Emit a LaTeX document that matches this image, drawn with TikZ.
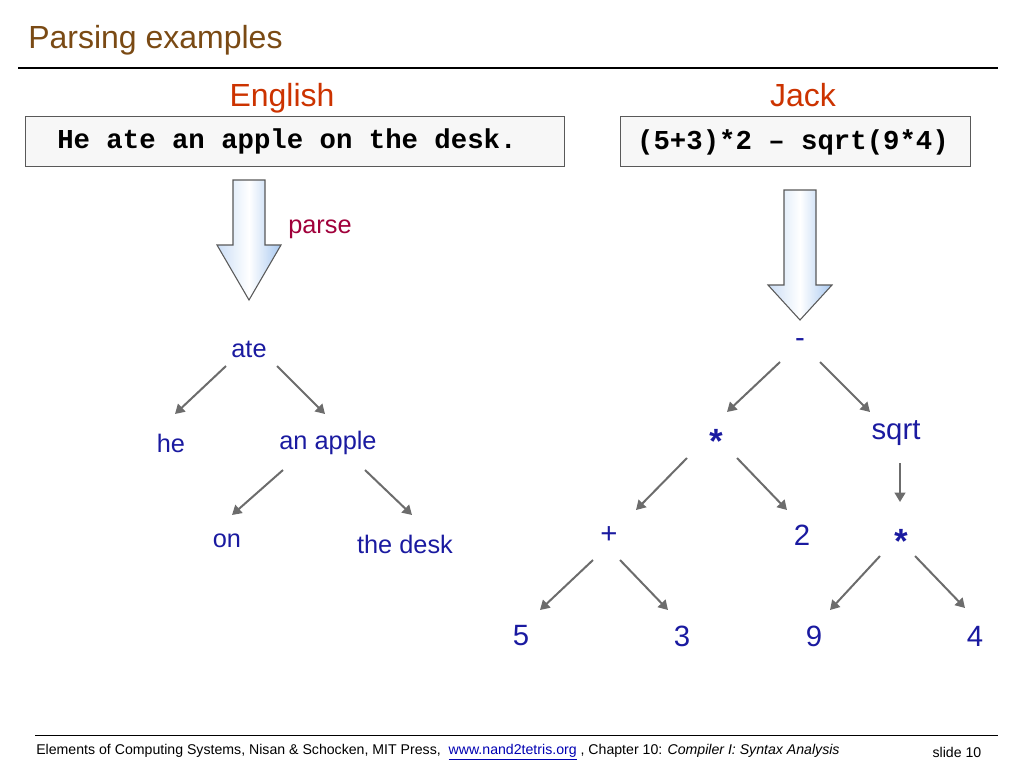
\documentclass[tikz,border=0pt]{standalone}
\usepackage{fontspec}
\setmainfont{Liberation Sans}
\setmonofont{Liberation Mono}
\usetikzlibrary{arrows.meta}
\definecolor{ttl}{HTML}{7A4A14}
\definecolor{hdr}{HTML}{CC3300}
\definecolor{tb}{HTML}{1A1AA0}
\definecolor{prs}{HTML}{A0003A}
\definecolor{bl}{HTML}{A8C8F0}
\tikzset{
 lab/.style={text=tb,font=\fontsize{19}{19}\selectfont,inner sep=0},
 big/.style={text=tb,font=\fontsize{22}{22}\selectfont,inner sep=0},
 op/.style={text=tb,font=\fontsize{26}{26}\selectfont\ttfamily\bfseries,inner sep=0},
 ed/.style={draw=gray!85!black,line width=1.5pt,-{Triangle[length=7pt,width=8pt]}},
 codebox/.style={draw=gray!70!black,fill=gray!6},
 code/.style={font=\fontsize{20.5}{20.5}\selectfont\ttfamily\bfseries,inner sep=0},
 hd/.style={text=hdr,font=\fontsize{24}{24}\selectfont,inner sep=0,anchor=base},
 bigarrow/.style={draw=gray!70!black,line width=0.8pt,left color=bl!60,right color=bl,middle color=white}
}
\begin{document}
\begin{tikzpicture}[x=0.75pt,y=-0.75pt]
\useasboundingbox (0,0) rectangle (1024,768);
\node[anchor=west,text=ttl,font=\fontsize{24}{24}\selectfont,inner sep=0] (title) at (28,40) {Parsing examples};
\draw[line width=1.6pt] (18,68) -- (998,68);
\node[hd] (eng) at (282,106) {English};
\node[hd] (jack) at (803,106) {Jack};
\draw[codebox] (25,116) rectangle (564,166);
\node[code,anchor=west] (s1) at (57,141) {He ate an apple on the desk.};
\draw[codebox] (620,116) rectangle (970,166);
\node[code] (s2) at (793,142) {(5+3)*2 – sqrt(9*4)};
\draw[bigarrow] (233,180) -- (265,180) -- (265,245) -- (281,245) -- (249,300) -- (217,245) -- (233,245) -- cycle;
\draw[bigarrow] (784,190) -- (816,190) -- (816,285) -- (832,285) -- (800,320) -- (768,285) -- (784,285) -- cycle;
\node[text=prs,font=\fontsize{19}{19}\selectfont,inner sep=0] (parse) at (320,229) {parse};
\node[lab] (ate) at (249,349) {ate};
\node[lab] (he) at (171,443) {he};
\node[lab] (apple) at (328,443) {an apple};
\node[lab] (on) at (227,541) {on};
\node[lab] (desk) at (405,544) {the desk};
\node[big] (minus) at (800,343) {-};
\node[op] (mul1) at (716,442) {*};
\node[big] (sqrt) at (896,433) {sqrt};
\node[big] (plus) at (609,535) {+};
\node[big] (two) at (802,535) {2};
\node[op] (mul2) at (901,542) {*};
\node[big] (five) at (521,636) {5};
\node[big] (three) at (682,636) {3};
\node[big] (nine) at (814,636) {9};
\node[big] (four) at (975,636) {4};
\draw[ed] (226,366) -- (175,414);
\draw[ed] (277,366) -- (325,414);
\draw[ed] (283,470) -- (232,515);
\draw[ed] (365,470) -- (412,515);
\draw[ed] (780,362) -- (727,412);
\draw[ed] (820,362) -- (870,412);
\draw[ed] (687,458) -- (636,510);
\draw[ed] (737,458) -- (787,510);
\draw[ed] (900,463) -- (900,502);
\draw[ed] (593,560) -- (540,610);
\draw[ed] (620,560) -- (668,610);
\draw[ed] (880,556) -- (830,610);
\draw[ed] (915,556) -- (965,608);
\draw[line width=0.6pt] (35,735) -- (998,735);
\node[anchor=west,font=\fontsize{10.6}{10.6}\selectfont,inner sep=0] (foot) at (36,752) {Elements of Computing Systems, Nisan \& Schocken, MIT Press,\ \ \textcolor{blue!70!black}{\underline{www.nand2tetris.org}} , Chapter 10: \textit{Compiler I: Syntax Analysis}};
\node[font=\fontsize{10.6}{10.6}\selectfont,inner sep=0] (slide) at (957,752) {slide 10};
\end{tikzpicture}
\end{document}
